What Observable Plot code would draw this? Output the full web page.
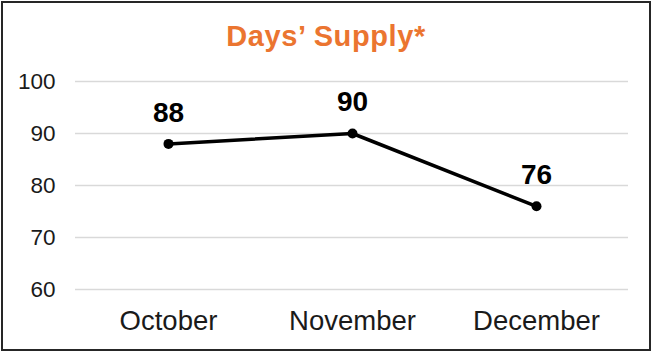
<!DOCTYPE html>
<html>
<head>
<meta charset="utf-8">
<script src="https://cdn.jsdelivr.net/npm/d3@7"></script>
<script src="https://cdn.jsdelivr.net/npm/@observablehq/plot@0.6"></script>
<style>
  html, body { margin: 0; padding: 0; background: #fff; }
  #wrap { position: relative; width: 652px; height: 352px; font-family: "Liberation Sans", Arial, sans-serif; }
  #frame { position: absolute; left: 1px; top: 1px; width: 646px; height: 346px; border: 2px solid #262626; pointer-events: none; }
  #title { position: absolute; left: 0; right: 0; top: 18px; text-align: center; font-size: 29px; letter-spacing: 0.6px; font-weight: bold; color: #EB7530; line-height: 36px; }
  #chart { position: absolute; left: 0; top: 0; }
</style>
</head>
<body>
<div id="wrap">
  <div id="chart"></div>
  <div id="title">Days’ Supply*</div>
  <div id="frame"></div>
</div>
<script>
const months = ["October", "November", "December"];
const supply = [88, 90, 76];
const yTicks = [60, 70, 80, 90, 100];

const data = months.map((m, i) => ({month: m, value: supply[i]}));

const chart = Plot.plot({
  width: 652,
  height: 352,
  marginLeft: 75,
  marginRight: 24,
  marginTop: 81,
  marginBottom: 63,
  style: {fontFamily: "Liberation Sans, Arial, sans-serif", background: "transparent", overflow: "visible"},
  x: {type: "point", domain: months, padding: 0.5, label: null},
  y: {domain: [60, 100], label: null},
  marks: [
    Plot.gridY(yTicks, {stroke: "#d9d9d9", strokeOpacity: 1, strokeWidth: 1.5}),
    Plot.axisY(yTicks, {tickSize: 0, tickPadding: 20, fontSize: 22.5, fill: "#1a1a1a", label: null}),
    Plot.axisX(months, {tickSize: 0, tickPadding: 21, fontSize: 27.5, fill: "#1a1a1a", label: null}),
    Plot.line(data, {x: "month", y: "value", stroke: "#000", strokeWidth: 3.5}),
    Plot.dot(data, {x: "month", y: "value", r: 5, fill: "#000"}),
    Plot.text(data, {x: "month", y: "value", text: d => String(d.value), dy: -31, fontSize: 28, fontWeight: "bold", fill: "#000"})
  ]
});
document.getElementById("chart").appendChild(chart);
</script>
</body>
</html>
